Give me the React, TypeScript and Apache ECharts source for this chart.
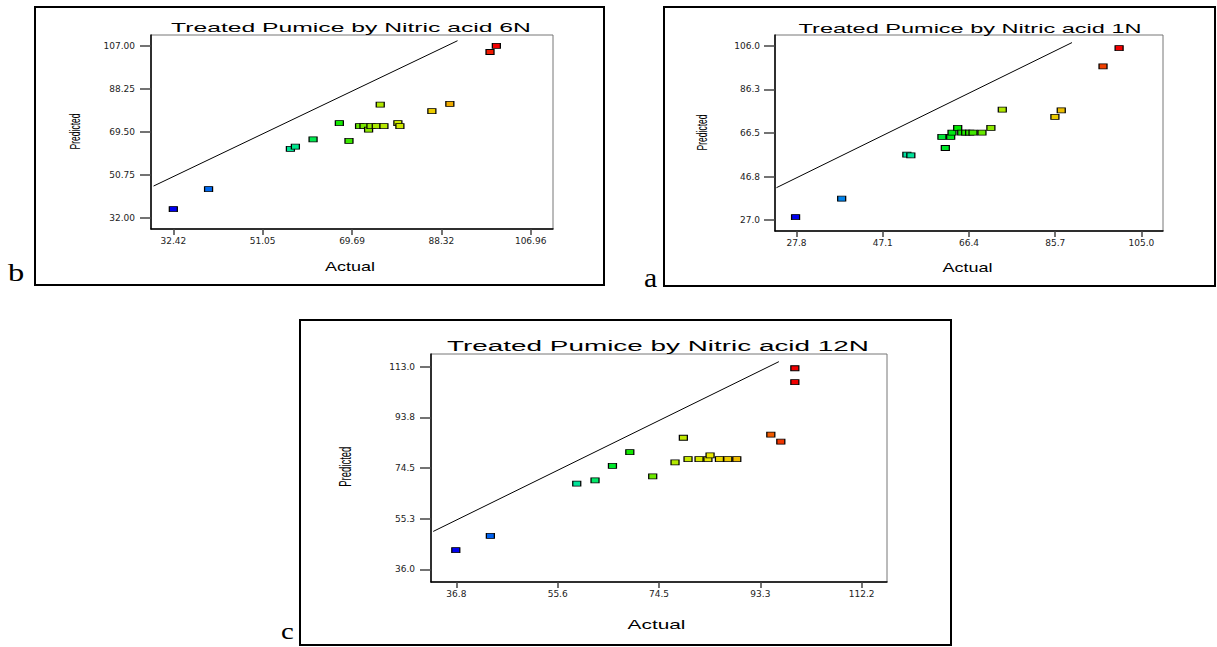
import React, { useEffect, useRef } from "react";
import * as echarts from "echarts";

// ---- Panel b : Nitric acid 6N ----
const b6Actual = [32.42, 39.77, 56.84, 57.88, 61.57, 67.05, 69.06, 71.27, 72.19, 73.15, 73.64, 74.75, 75.58, 76.35, 79.26, 79.68, 86.35, 90.1, 98.48, 99.8];
const b6Pred = [36.0, 44.7, 62.2, 63.1, 66.3, 73.4, 65.6, 72.1, 72.1, 70.5, 72.1, 72.1, 81.4, 72.1, 73.4, 72.1, 78.6, 81.7, 104.3, 107.0];
const b6XTicks = [32.42, 51.05, 69.69, 88.32, 106.96];
const b6XLabels = ["32.42", "51.05", "69.69", "88.32", "106.96"];
const b6YTicks = [32.0, 50.75, 69.5, 88.25, 107.0];
const b6YLabels = ["32.00", "50.75", "69.50", "88.25", "107.00"];
const b6Line = [[28.3, 46.0], [91.7, 109.2]];

// ---- Panel a : Nitric acid 1N ----
const a1Actual = [27.58, 37.9, 52.49, 53.38, 60.34, 61.1, 62.3, 62.6, 63.87, 64.77, 65.66, 66.55, 67.3, 69.3, 71.3, 73.85, 85.63, 87.05, 96.4, 100.0];
const a1Pred = [28.4, 36.7, 56.7, 56.4, 64.7, 59.7, 64.7, 66.7, 68.8, 66.7, 66.7, 66.7, 66.7, 66.7, 68.8, 77.1, 73.8, 76.8, 96.7, 105.0];
const a1XTicks = [27.8, 47.1, 66.4, 85.7, 105.0];
const a1XLabels = ["27.8", "47.1", "66.4", "85.7", "105.0"];
const a1YTicks = [27.0, 46.75, 66.5, 86.25, 106.0];
const a1YLabels = ["27.0", "46.8", "66.5", "86.3", "106.0"];
const a1Line = [[23.3, 41.7], [89.45, 107.5]];

// ---- Panel c : Nitric acid 12N ----
const c12Actual = [36.7, 43.13, 59.2, 62.6, 65.84, 69.07, 73.33, 77.48, 79.03, 79.9, 81.95, 83.6, 84.0, 85.74, 87.3, 88.97, 95.3, 97.16, 99.77, 99.77];
const c12Pred = [43.3, 48.7, 68.6, 69.8, 75.3, 80.5, 71.3, 76.6, 86.0, 77.9, 77.9, 77.9, 79.3, 77.9, 77.9, 77.9, 87.2, 84.5, 107.1, 112.4];
const c12XTicks = [36.8, 55.65, 74.5, 93.35, 112.2];
const c12XLabels = ["36.8", "55.6", "74.5", "93.3", "112.2"];
const c12YTicks = [36.0, 55.25, 74.5, 93.75, 113.0];
const c12YLabels = ["36.0", "55.3", "74.5", "93.8", "113.0"];
const c12Line = [[32.5, 50.4], [96.8, 114.9]];

const titles = [
  "Treated Pumice by Nitric acid 6N",
  "Treated Pumice by Nitric acid 1N",
  "Treated Pumice by Nitric acid 12N",
];

const COLORS = ["#0000f0", "#0078f0", "#00c8d0", "#00e890", "#00e800", "#a8e800", "#e8e800", "#f0a000", "#f00000"];
const SANS = "Liberation Sans, Arial, sans-serif";
const SERIF = "Liberation Serif, Times New Roman, serif";

function pairs(xs: number[], ys: number[]) {
  return xs.map((x, i) => [x, ys[i]]);
}

function labelFor(ticks: number[], labels: string[]) {
  return (v: number) => {
    let best = 0;
    for (let i = 1; i < ticks.length; i++) {
      if (Math.abs(ticks[i] - v) < Math.abs(ticks[best] - v)) best = i;
    }
    return labels[best];
  };
}

function xAxisCfg(gi: number, ticks: number[], labels: string[], margin: number) {
  const step = ticks[1] - ticks[0];
  return {
    type: "value",
    gridIndex: gi,
    min: ticks[0] - step / 4,
    max: ticks[ticks.length - 1] + step / 4,
    splitLine: { show: false },
    axisLine: { show: true, onZero: false, lineStyle: { color: "#000", width: 1.5 } },
    axisTick: { show: true, length: 6, customValues: ticks, lineStyle: { color: "#444", width: 1.5 } },
    axisLabel: {
      customValues: ticks,
      formatter: labelFor(ticks, labels),
      fontSize: 9,
      fontFamily: "DejaVu Sans, sans-serif",
      color: "#222",
      margin,
    },
  };
}

function yAxisCfg(gi: number, ticks: number[], labels: string[], margin: number) {
  const step = ticks[1] - ticks[0];
  return {
    type: "value",
    gridIndex: gi,
    min: ticks[0] - step / 4,
    max: ticks[ticks.length - 1] + step / 4,
    splitLine: { show: false },
    axisLine: { show: true, onZero: false, lineStyle: { color: "#000", width: 1.5 } },
    axisTick: { show: true, length: 11, customValues: ticks, lineStyle: { color: "#444", width: 1.5 } },
    axisLabel: {
      customValues: ticks,
      formatter: labelFor(ticks, labels),
      fontSize: 9,
      fontFamily: "DejaVu Sans, sans-serif",
      color: "#222",
      margin,
    },
  };
}

function scatter(gi: number, xs: number[], ys: number[]) {
  return {
    type: "scatter",
    xAxisIndex: gi,
    yAxisIndex: gi,
    symbol: "rect",
    symbolSize: [8, 5],
    itemStyle: { borderColor: "#000", borderWidth: 1, opacity: 1 },
    data: pairs(xs, ys),
    z: 3,
  };
}

function diag(gi: number, pts: number[][]) {
  return {
    type: "line",
    xAxisIndex: gi,
    yAxisIndex: gi,
    data: pts,
    showSymbol: false,
    symbol: "none",
    lineStyle: { color: "#000", width: 1 },
    z: 2,
  };
}

function txt(text: string, x: number, y: number, size: number, sx: number, opts: any = {}) {
  return {
    type: "text",
    x,
    y,
    scaleX: opts.scaleX ?? sx,
    scaleY: opts.scaleY ?? 1,
    rotation: opts.rotation ?? 0,
    z: 10,
    style: {
      text,
      fontSize: size,
      fontFamily: opts.font ?? SANS,
      fill: "#000",
      align: opts.align ?? "center",
      verticalAlign: "middle",
      textAlign: opts.align ?? "center",
      textVerticalAlign: "middle",
    },
  };
}

function box(x: number, y: number, w: number, h: number) {
  return {
    type: "rect",
    shape: { x, y, width: w, height: h },
    style: { fill: "none", stroke: "#000", lineWidth: 2 },
    z: 10,
  };
}

export default function App() {
  const ref = useRef<HTMLDivElement>(null);
  useEffect(() => {
    if (!ref.current) return;
    const chart = echarts.init(ref.current, undefined, { renderer: "svg" });
    const gridBase = { show: true, borderColor: "#777", borderWidth: 1, backgroundColor: "transparent", containLabel: false };
    chart.setOption({
      animation: false,
      backgroundColor: "#fff",
      grid: [
        { ...gridBase, left: 151, top: 35, width: 402, height: 194 },
        { ...gridBase, left: 775, top: 35, width: 388, height: 196 },
        { ...gridBase, left: 431, top: 354, width: 456, height: 228 },
      ],
      xAxis: [
        xAxisCfg(0, b6XTicks, b6XLabels, 7),
        xAxisCfg(1, a1XTicks, a1XLabels, 7),
        xAxisCfg(2, c12XTicks, c12XLabels, 7),
      ],
      yAxis: [
        yAxisCfg(0, b6YTicks, b6YLabels, 16),
        yAxisCfg(1, a1YTicks, a1YLabels, 15),
        yAxisCfg(2, c12YTicks, c12YLabels, 16),
      ],
      visualMap: [
        { type: "continuous", show: false, seriesIndex: 1, dimension: 0, min: Math.min(...b6Actual), max: Math.max(...b6Actual), inRange: { color: COLORS } },
        { type: "continuous", show: false, seriesIndex: 3, dimension: 0, min: Math.min(...a1Actual), max: Math.max(...a1Actual), inRange: { color: COLORS } },
        { type: "continuous", show: false, seriesIndex: 5, dimension: 0, min: Math.min(...c12Actual), max: Math.max(...c12Actual), inRange: { color: COLORS } },
      ],
      series: [
        diag(0, b6Line),
        scatter(0, b6Actual, b6Pred),
        diag(1, a1Line),
        scatter(1, a1Actual, a1Pred),
        diag(2, c12Line),
        scatter(2, c12Actual, c12Pred),
      ],
      graphic: [
        box(35, 7, 569, 278),
        box(664, 7, 551, 279),
        box(300, 320, 651, 325),
        txt(titles[0], 351, 27.7, 13, 1.9),
        txt(titles[1], 970, 28.3, 13, 1.81),
        txt(titles[2], 658, 345.5, 15, 1.86),
        txt("Actual", 350, 266.7, 12, 1.5),
        txt("Actual", 967.5, 268, 12, 1.5),
        txt("Actual", 656.5, 625, 13, 1.6),
        txt("Predicted", 74.7, 131.5, 8.5, 1, { rotation: Math.PI / 2, scaleX: 1, scaleY: 1.8 }),
        txt("Predicted", 701.7, 132.5, 8.5, 1, { rotation: Math.PI / 2, scaleX: 1, scaleY: 1.8 }),
        txt("Predicted", 345.3, 466.7, 9.5, 1, { rotation: Math.PI / 2, scaleX: 1, scaleY: 1.8 }),
        txt("b", 8, 272.5, 25, 1.3, { align: "left", font: SERIF }),
        txt("a", 644, 277.5, 27, 1.1, { align: "left", font: SERIF }),
        txt("c", 281, 631.5, 23, 1.25, { align: "left", font: SERIF }),
      ],
    });
    return () => chart.dispose();
  }, []);
  return (
    <div
      ref={ref}
      style={{ position: "absolute", left: 0, top: 0, width: 1217, height: 647, background: "#fff" }}
    />
  );
}
